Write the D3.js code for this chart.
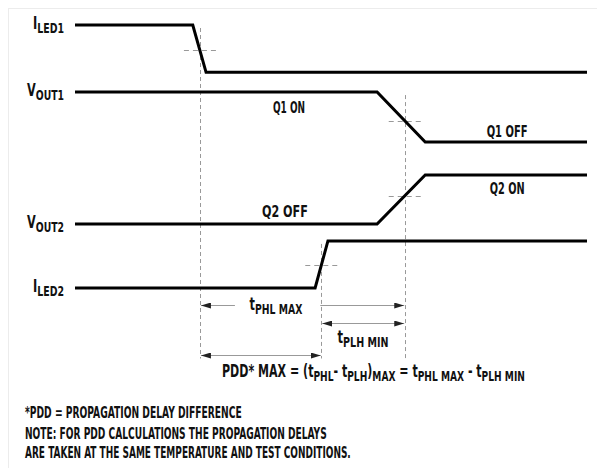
<!DOCTYPE html>
<html>
<head>
<meta charset="utf-8">
<script src="https://cdn.jsdelivr.net/npm/d3@7"></script>
<style>
  body { margin: 0; background: #fff; }
  svg text { font-family: "DejaVu Sans Condensed", "Liberation Sans Narrow", sans-serif; font-weight: bold; fill: #111; }
</style>
</head>
<body>
<script>
// signal names (main letter + subscript)
var labelMain = ["I", "V", "V", "I"];
var labelSub = ["LED1", "OUT1", "OUT2", "LED2"];
var labelWidth = [31, 37, 37, 31];

// waveforms: time breakpoints and levels (arbitrary units)
var waveT = [
  [0, 23.0, 25.6, 100],
  [0, 59.0, 68.4, 100],
  [0, 59.0, 68.4, 100],
  [0, 46.9, 49.4, 100]
];
var waveLevel = [
  [100, 100, 82, 82],
  [74.5, 74.5, 55.5, 55.5],
  [24.3, 24.3, 43, 43],
  [0, 0, 17.9, 17.9]
];

// reference edges (50% points) and the signal each one belongs to
var edgeT = [24.4, 48.1, 64.4];
var edgeSignal = [0, 3, 1];
var markSignal = [[0], [3], [1, 2]];

// state labels
var stateText = ["Q1 ON", "Q1 OFF", "Q2 OFF", "Q2 ON"];
var stateT = [41.8, 84.4, 41.0, 84.4];
var stateLevel = [66.5, 57.4, 27, 35.7];
var stateWidth = [32, 41, 46, 35];

// dimension arrows (levels below the ILED2 low line)
var dimLevel = [-6.5, -13.3, -25.5];

var notes = [
  "*PDD = PROPAGATION DELAY DIFFERENCE",
  "NOTE:  FOR PDD CALCULATIONS THE PROPAGATION DELAYS",
  "ARE TAKEN AT THE SAME TEMPERATURE AND TEST CONDITIONS."
];
var noteWidth = [217, 302, 326];
var noteY = [418, 439, 458];

var width = 597, height = 468;

var svg = d3.select("body").append("svg")
    .attr("width", width)
    .attr("height", height);

svg.append("rect")
    .attr("x", 8.5).attr("y", 8.5)
    .attr("width", width).attr("height", height)
    .attr("fill", "none")
    .attr("stroke", "#ececec");

var x = d3.scaleLinear().domain([0, 100]).range([75, 587]);
var y = d3.scaleLinear().domain([0, 100]).range([288, 25]);

// squeeze a text horizontally to a target width (the source font is condensed)
function fit(text, px, py, w) {
  var natural = text.node().getBBox().width;
  text.attr("x", 0).attr("y", 0)
      .attr("transform", "translate(" + px + "," + py + ") scale(" + (w / natural) + ",1)");
}

var defs = svg.append("defs");
defs.append("marker")
    .attr("id", "ah")
    .attr("viewBox", "0 0 10 6")
    .attr("refX", 10).attr("refY", 3)
    .attr("markerWidth", 10).attr("markerHeight", 6)
    .attr("markerUnits", "userSpaceOnUse")
    .attr("orient", "auto-start-reverse")
  .append("path")
    .attr("d", "M0,0L10,3L0,6Z")
    .attr("fill", "#222");

// dashed reference verticals
var bottomY = y(-26.8);
svg.selectAll(".edge")
    .data(edgeT)
    .enter()
    .append("line")
    .attr("class", "edge")
    .attr("x1", function(d) { return Math.round(x(d)) + 0.5; })
    .attr("x2", function(d) { return Math.round(x(d)) + 0.5; })
    .attr("y1", function(d, i) { return y(d3.max(waveLevel[edgeSignal[i]])) + 3; })
    .attr("y2", bottomY)
    .attr("stroke", "#999")
    .attr("stroke-width", 1)
    .attr("stroke-dasharray", "4,3");

// short dashed threshold marks where the edge crosses each transition
function levelAt(s, t) {
  var ts = waveT[s], ls = waveLevel[s];
  for (var k = 0; k < ts.length - 1; k++) {
    if (t >= ts[k] && t <= ts[k + 1]) {
      return ls[k] + (ls[k + 1] - ls[k]) * (t - ts[k]) / (ts[k + 1] - ts[k]);
    }
  }
  return ls[ls.length - 1];
}
var marks = [];
edgeT.forEach(function(t, i) {
  markSignal[i].forEach(function(s) { marks.push({ t: t, s: s }); });
});
svg.selectAll(".mark")
    .data(marks)
    .enter()
    .append("line")
    .attr("class", "mark")
    .attr("x1", function(d) { return x(d.t) - 16; })
    .attr("x2", function(d) { return x(d.t) + 16; })
    .attr("y1", function(d) { return Math.round(y(levelAt(d.s, d.t))) + 0.5; })
    .attr("y2", function(d) { return Math.round(y(levelAt(d.s, d.t))) + 0.5; })
    .attr("stroke", "#999")
    .attr("stroke-width", 1)
    .attr("stroke-dasharray", "5,4");

// waveforms
var line = d3.line()
    .x(function(d) { return x(d[0]); })
    .y(function(d) { return y(d[1]); });

svg.selectAll(".wave")
    .data(waveT.map(function(ts, i) { return ts.map(function(t, k) { return [t, waveLevel[i][k]]; }); }))
    .enter()
    .append("path")
    .attr("class", "wave")
    .attr("d", line)
    .attr("fill", "none")
    .attr("stroke", "#000")
    .attr("stroke-width", 3)
    .attr("stroke-linejoin", "miter");

// signal labels
labelMain.forEach(function(m, i) {
  var t = svg.append("text")
      .attr("class", "sig")
      .attr("text-anchor", "end")
      .style("font-size", "17px");
  t.append("tspan").text(m);
  t.append("tspan")
      .attr("dy", 4)
      .style("font-size", "14px")
      .text(labelSub[i]);
  fit(t, 64, y(waveLevel[i][0]) + 4, labelWidth[i]);
});

// state labels
stateText.forEach(function(s, i) {
  var t = svg.append("text")
      .attr("class", "state")
      .attr("text-anchor", "middle")
      .style("font-size", "15px")
      .text(s);
  fit(t, x(stateT[i]), y(stateLevel[i]), stateWidth[i]);
});

// tPHL MAX: split around its label
var yP = Math.round(y(dimLevel[0])) + 0.5;
svg.append("line")
    .attr("x1", x(edgeT[0]) + 1).attr("x2", x(edgeT[0]) + 35)
    .attr("y1", yP).attr("y2", yP)
    .attr("stroke", "#999").attr("marker-start", "url(#ah)");
svg.append("line")
    .attr("x1", x(edgeT[1]) - 1).attr("x2", x(edgeT[2]) - 0.5)
    .attr("y1", yP).attr("y2", yP)
    .attr("stroke", "#999").attr("marker-end", "url(#ah)");

// tPLH MIN and PDD arrows
[[1, 2, dimLevel[1]], [0, 1, dimLevel[2]]].forEach(function(d) {
  var yy = Math.round(y(d[2])) + 0.5;
  svg.append("line")
      .attr("x1", x(edgeT[d[0]]) + 1).attr("x2", x(edgeT[d[1]]) - 0.5)
      .attr("y1", yy).attr("y2", yy)
      .attr("stroke", "#999")
      .attr("marker-start", "url(#ah)")
      .attr("marker-end", "url(#ah)");
});

function subText(px, py, parts, len, anchor) {
  var t = svg.append("text")
      .attr("text-anchor", anchor || "middle")
      .style("font-size", "17px");
  var shift = 0;
  parts.forEach(function(p) {
    var sp = t.append("tspan").text(p[0]);
    var want = p[1] ? 4 : 0;
    if (want !== shift) { sp.attr("dy", want - shift); shift = want; }
    sp.style("font-size", p[1] ? "14px" : "17px");
  });
  fit(t, px, py, len);
  return t;
}

subText(x(edgeT[0]) + 76, yP + 4, [["t", 0], ["PHL MAX", 1]], 53);
subText((x(edgeT[1]) + x(edgeT[2])) / 2, y(dimLevel[1]) + 20, [["t", 0], ["PLH MIN", 1]], 51);
subText(222, 377, [
  ["PDD* MAX = (t", 0], ["PHL", 1], ["- t", 0], ["PLH", 1], [")", 0], ["MAX", 1],
  [" = t", 0], ["PHL MAX", 1], [" - t", 0], ["PLH MIN", 1]
], 303, "start");

// footnotes
notes.forEach(function(n, i) {
  var t = svg.append("text")
      .attr("class", "note")
      .style("font-size", "15px")
      .text(n);
  fit(t, 25, noteY[i], noteWidth[i]);
});
</script>
</body>
</html>
